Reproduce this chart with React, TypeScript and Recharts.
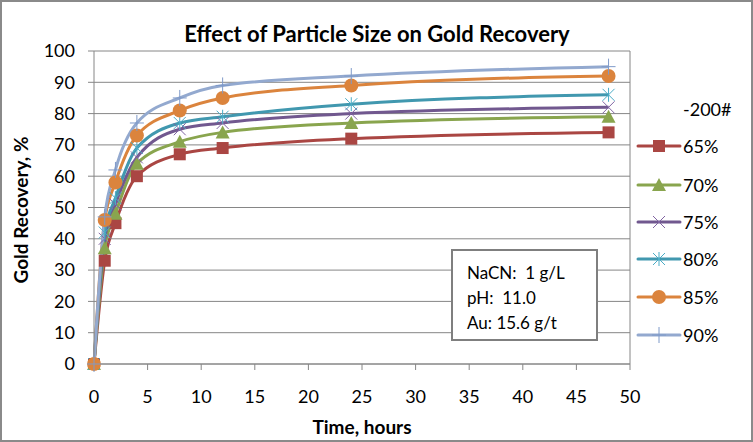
import { LineChart, Line, XAxis, YAxis, CartesianGrid, ReferenceLine } from 'recharts'

// sampling times (hours)
const hours = [0, 1, 2, 4, 8, 12, 24, 48]

// gold recovery % by grind size (% passing -200 mesh)
const rec65 = [0, 33, 45, 60, 67, 69, 72, 74]
const rec70 = [0, 37, 48, 64, 71, 74, 77, 79]
const rec75 = [0, 40, 51, 66, 75, 77, 80, 82]
const rec80 = [0, 42, 53, 69, 77, 79, 83, 86]
const rec85 = [0, 46, 58, 73, 81, 85, 89, 92]
const rec90 = [0, 47, 62, 77, 85, 89, 92, 95]

const xTicks = [0, 5, 10, 15, 20, 25, 30, 35, 40, 45, 50]
const yTicks = [0, 10, 20, 30, 40, 50, 60, 70, 80, 90, 100]

const conditions = ['NaCN:  1 g/L', 'pH:  11.0', 'Au: 15.6 g/t']

type MarkerKind = 'square' | 'triangle' | 'x' | 'star' | 'circle' | 'plus'

const series: {
  key: string
  name: string
  values: number[]
  color: string
  markColor: string
  marker: MarkerKind
}[] = [
  { key: 'r65', name: '65%', values: rec65, color: '#AA4643', markColor: '#AA4643', marker: 'square' },
  { key: 'r70', name: '70%', values: rec70, color: '#89A54E', markColor: '#89A54E', marker: 'triangle' },
  { key: 'r75', name: '75%', values: rec75, color: '#71588F', markColor: '#8064A2', marker: 'x' },
  { key: 'r80', name: '80%', values: rec80, color: '#4198AF', markColor: '#4BACC6', marker: 'star' },
  { key: 'r85', name: '85%', values: rec85, color: '#DB843D', markColor: '#DB843D', marker: 'circle' },
  { key: 'r90', name: '90%', values: rec90, color: '#93A9CF', markColor: '#7F9AC9', marker: 'plus' },
]

const data = hours.map((t, i) => {
  const row: Record<string, number> = { t }
  series.forEach((s) => (row[s.key] = s.values[i]))
  return row
})

const FONT = 'Lato, "Open Sans", sans-serif'
const GRID = '#868686'

function Marker({ kind, cx, cy, color }: { kind: MarkerKind; cx: number; cy: number; color: string }) {
  if (cx == null || cy == null) return null
  switch (kind) {
    case 'square':
      return <rect x={cx - 6} y={cy - 6} width={12} height={12} fill={color} />
    case 'triangle':
      return <polygon points={`${cx},${cy - 7} ${cx + 7},${cy + 6} ${cx - 7},${cy + 6}`} fill={color} />
    case 'x':
      return (
        <path
          d={`M${cx - 6},${cy - 6}L${cx + 6},${cy + 6}M${cx + 6},${cy - 6}L${cx - 6},${cy + 6}`}
          stroke={color}
          strokeWidth={1}
          fill='none'
        />
      )
    case 'star':
      return (
        <path
          d={`M${cx - 6},${cy - 6}L${cx + 6},${cy + 6}M${cx + 6},${cy - 6}L${cx - 6},${cy + 6}M${cx},${cy - 7}L${cx},${cy + 7}`}
          stroke={color}
          strokeWidth={1}
          fill='none'
        />
      )
    case 'circle':
      return <circle cx={cx} cy={cy} r={7} fill={color} />
    case 'plus':
      return (
        <path
          d={`M${cx},${cy - 8}L${cx},${cy + 8}M${cx - 7},${cy}L${cx + 7},${cy}`}
          stroke={color}
          strokeWidth={1}
          fill='none'
        />
      )
  }
  return null
}

const legendTops = [146, 185, 222, 259, 297, 335]

export default function App() {
  return (
    <div
      style={{
        position: 'absolute',
        left: 0,
        top: 0,
        width: 753,
        height: 442,
        background: '#fff',
        fontFamily: FONT,
        color: '#000',
      }}
    >
      <LineChart
        width={753}
        height={442}
        data={data}
        margin={{ top: 51, right: 123, bottom: 0, left: 0 }}
      >
        <CartesianGrid vertical={false} stroke={GRID} strokeWidth={1} />
        <ReferenceLine x={50} stroke={GRID} strokeWidth={1} />
        <XAxis
          dataKey='t'
          type='number'
          domain={[0, 50]}
          ticks={xTicks}
          height={78}
          tickSize={6}
          tickMargin={20}
          axisLine={{ stroke: GRID }}
          tickLine={{ stroke: GRID }}
          tick={{ fontSize: 18, fill: '#000', fontFamily: FONT }}
        />
        <YAxis
          type='number'
          domain={[0, 100]}
          ticks={yTicks}
          width={94}
          tickSize={6}
          tickMargin={13}
          axisLine={{ stroke: GRID }}
          tickLine={{ stroke: GRID }}
          tick={{ fontSize: 18, fill: '#000', fontFamily: FONT }}
        />
        {series.map((s) => (
          <Line
            key={s.key}
            dataKey={s.key}
            name={s.name}
            type='monotone'
            stroke={s.color}
            strokeWidth={3}
            isAnimationActive={false}
            activeDot={false}
            dot={(p: any) => (
              <Marker key={`${s.key}-${p.index}`} kind={s.marker} cx={p.cx} cy={p.cy} color={s.markColor} />
            )}
          />
        ))}
      </LineChart>

      {/* title */}
      <div
        style={{
          position: 'absolute',
          left: 377,
          top: 33,
          transform: 'translate(-50%, -50%)',
          fontSize: 22,
          fontWeight: 700,
          whiteSpace: 'nowrap',
        }}
      >
        Effect of Particle Size on Gold Recovery
      </div>

      {/* axis titles */}
      <div
        style={{
          position: 'absolute',
          left: 20,
          top: 210,
          transform: 'translate(-50%, -50%) rotate(-90deg)',
          fontSize: 19,
          fontWeight: 700,
          whiteSpace: 'nowrap',
        }}
      >
        Gold Recovery, %
      </div>
      <div
        style={{
          position: 'absolute',
          left: 362,
          top: 426,
          transform: 'translate(-50%, -50%)',
          fontSize: 19,
          fontWeight: 700,
          whiteSpace: 'nowrap',
        }}
      >
        Time, hours
      </div>

      {/* legend */}
      <div
        style={{
          position: 'absolute',
          left: 683,
          top: 109,
          transform: 'translateY(-50%)',
          fontSize: 18,
          whiteSpace: 'nowrap',
        }}
      >
        -200#
      </div>
      {series.map((s, i) => (
        <div
          key={s.key}
          style={{
            position: 'absolute',
            left: 636,
            top: legendTops[i],
            transform: 'translateY(-50%)',
            display: 'flex',
            alignItems: 'center',
            fontSize: 18,
            whiteSpace: 'nowrap',
          }}
        >
          <svg width={46} height={18} style={{ display: 'block' }}>
            <line x1={2} y1={9} x2={44} y2={9} stroke={s.color} strokeWidth={3} strokeLinecap='round' />
            <Marker kind={s.marker} cx={23} cy={9} color={s.markColor} />
          </svg>
          <span style={{ marginLeft: 1 }}>{s.name}</span>
        </div>
      ))}

      {/* conditions box */}
      <div
        style={{
          position: 'absolute',
          left: 451,
          top: 249,
          width: 147,
          height: 92,
          boxSizing: 'border-box',
          border: '2px solid #7f7f7f',
          background: '#fff',
          paddingLeft: 14,
          paddingTop: 9,
          fontSize: 17,
          lineHeight: '25px',
          whiteSpace: 'pre',
        }}
      >
        {conditions.map((c) => (
          <div key={c}>{c}</div>
        ))}
      </div>

      {/* chart frame */}
      <div
        style={{
          position: 'absolute',
          inset: 0,
          border: '2px solid #8a8a8a',
          pointerEvents: 'none',
        }}
      />
    </div>
  )
}
